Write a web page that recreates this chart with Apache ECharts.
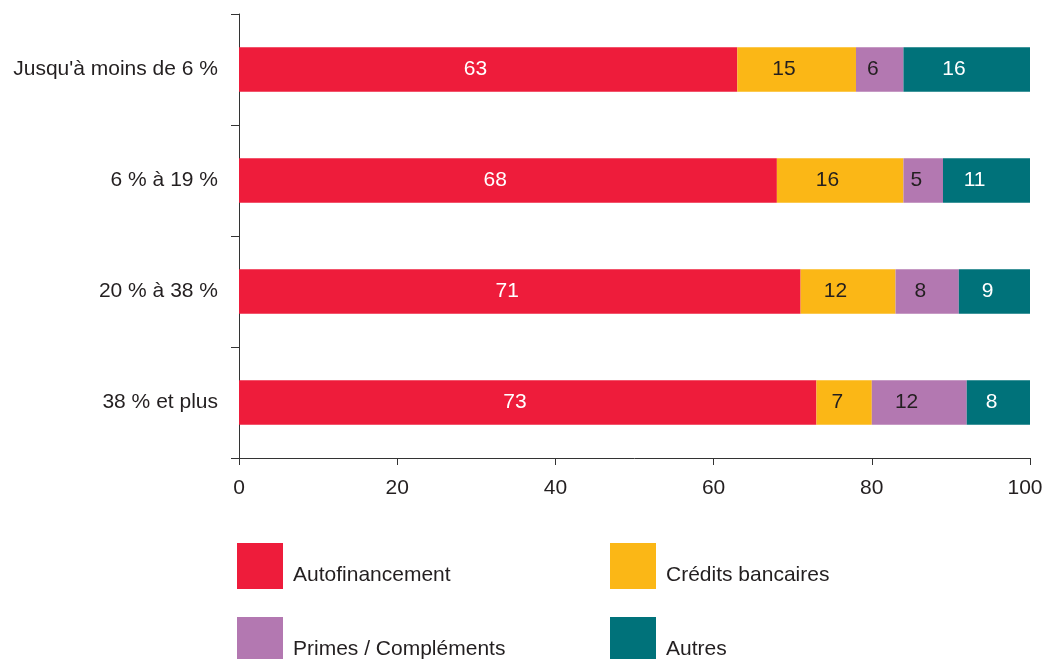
<!DOCTYPE html>
<html>
<head>
<meta charset="utf-8">
<script src="https://cdn.jsdelivr.net/npm/echarts@6/dist/echarts.min.js"></script>
<style>
  html, body { margin: 0; padding: 0; background: #fff; }
  #chart { width: 1043px; height: 659px; }
</style>
</head>
<body>
<div id="chart"></div>
<script>
// Tranches and financing shares (%)
const categories = ["Jusqu'à moins de 6 %", "6 % à 19 %", "20 % à 38 %", "38 % et plus"];
const autofinancement = [63, 68, 71, 73];
const creditsBancaires = [15, 16, 12, 7];
const primesComplements = [6, 5, 8, 12];
const autres = [16, 11, 9, 8];
const xTicks = { min: 0, max: 100, interval: 20 };

const seriesNames = ['Autofinancement', 'Crédits bancaires', 'Primes / Compléments', 'Autres'];
const seriesData = [autofinancement, creditsBancaires, primesComplements, autres];
const colors = ['#EE1C3B', '#FBB716', '#B378B1', '#00727A'];
const labelColors = ['#ffffff', '#231F20', '#231F20', '#ffffff'];

const FONT = '"Liberation Sans", Arial, sans-serif';
const TEXT = '#231F20';

const chart = echarts.init(document.getElementById('chart'), null, { renderer: 'canvas' });

// One legend block per entry, laid out as a 2x2 grid
const legendPos = [
  { left: 237, top: 543 },
  { left: 610, top: 543 },
  { left: 237, top: 617 },
  { left: 610, top: 617 }
];
const legends = seriesNames.map((name, i) => ({
  data: [name],
  left: legendPos[i].left,
  top: legendPos[i].top,
  padding: 0,
  itemWidth: 46,
  itemHeight: 46,
  icon: 'rect',
  selectedMode: false,
  formatter: '{t|{name}}',
  textStyle: {
    fontFamily: FONT,
    fontSize: 21,
    color: TEXT,
    rich: {
      t: {
        fontFamily: FONT,
        fontSize: 21,
        color: TEXT,
        padding: [19, 0, 0, 5]
      }
    }
  }
}));

chart.setOption({
  animation: false,
  textStyle: { fontFamily: FONT },
  grid: {
    left: 239, right: 13, top: 14, bottom: 201,
    containLabel: false,
    outerBoundsMode: 'none'
  },
  legend: legends,
  xAxis: {
    type: 'value',
    min: xTicks.min,
    max: xTicks.max,
    interval: xTicks.interval,
    axisLine: { show: true, lineStyle: { color: '#333333', width: 1 } },
    axisTick: { show: true, length: 7, lineStyle: { color: '#333333' } },
    splitLine: { show: false },
    axisLabel: {
      fontFamily: FONT, fontSize: 21, color: TEXT, margin: 20,
      // keep the last tick label inside the canvas edge
      formatter: (v) => (v === xTicks.max ? '{last|' + v + '}' : String(v)),
      rich: {
        last: { fontFamily: FONT, fontSize: 21, color: TEXT, padding: [0, 10, 0, 0] }
      }
    }
  },
  yAxis: {
    type: 'category',
    data: categories,
    inverse: true,
    axisLine: { show: true, lineStyle: { color: '#333333', width: 1 } },
    axisTick: { show: true, length: 8, lineStyle: { color: '#333333' } },
    axisLabel: { fontFamily: FONT, fontSize: 21, color: TEXT, margin: 21 }
  },
  series: seriesNames.map((name, i) => ({
    name: name,
    type: 'bar',
    stack: 'total',
    barWidth: '40%',
    data: seriesData[i],
    itemStyle: { color: colors[i] },
    label: {
      show: true,
      position: 'inside',
      align: 'right',
      offset: [-1, 0],
      fontFamily: FONT,
      fontSize: 21,
      color: labelColors[i]
    },
    emphasis: { disabled: true }
  }))
});
</script>
</body>
</html>
